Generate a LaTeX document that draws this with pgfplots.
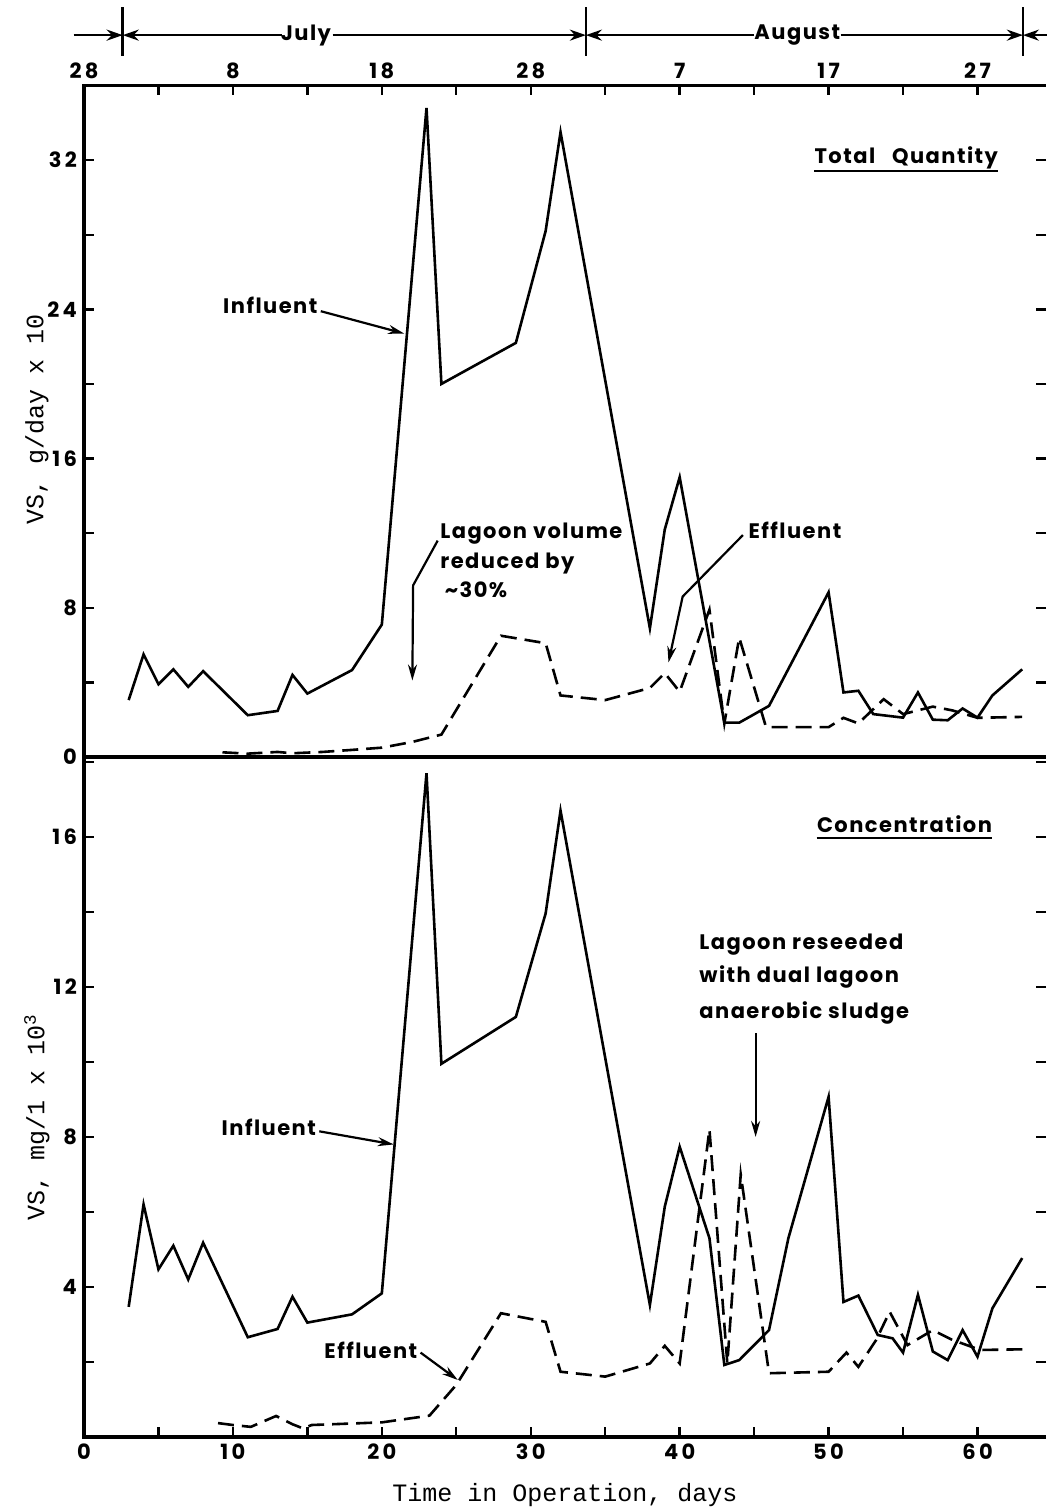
\documentclass[border=0pt]{standalone}
\usepackage{fontspec}
\usepackage{pgfplots}
\pgfplotsset{compat=1.18}
\usetikzlibrary{arrows.meta}
\setmonofont{Liberation Mono}
\newfontfamily\lettering{Poppins}[LetterSpace=7.0]
\newfontfamily\digitsfont{Poppins}[LetterSpace=16.0]
\newcommand{\lt}{\lettering\bfseries\fontsize{10.5}{12}\selectfont}
\newcommand{\tl}{\digitsfont\bfseries\fontsize{10.5}{12}\selectfont}
\tikzset{arr/.style={line width=1.1pt, -{Stealth[length=8pt,width=4.5pt]}}}

\pgfplotstableread{
x y
3 3.05
4 5.5
5 3.9
6 4.7
7 3.76
8 4.6
11 2.24
13 2.47
14 4.4
15 3.4
18 4.66
20 7.1
23 34.8
24 20.0
29 22.2
31 28.2
32 33.5
38 6.9
39 12.2
40 15.0
43 1.84
44 1.84
46 2.74
50 8.83
51 3.46
52 3.55
53 2.3
55 2.11
56 3.46
57 2.0
58 1.97
59 2.6
60 2.11
61 3.3
63 4.7
}\topinf

\pgfplotstableread{
x y
9.3 0.25
11 0.18
13 0.27
14 0.2
16 0.27
18 0.38
20 0.5
22 0.8
24 1.2
28 6.5
31 6.1
32 3.3
35 3.05
38 3.7
39 4.5
40 3.5
42 7.9
43 1.8
44 6.4
45.8 1.6
50 1.6
51 2.1
52 1.8
53.7 3.1
55 2.3
57 2.7
58.3 2.5
60 2.1
63 2.15
}\topeff

\pgfplotstableread{
x y
3 3.47
4 6.2
5 4.47
6 5.1
7 4.2
8 5.18
11 2.66
13 2.88
14 3.74
15 3.05
18 3.27
20 3.83
23 17.7
24 9.95
29 11.2
31 13.96
32 16.7
38 3.52
39 6.14
40 7.74
42 5.3
43 1.92
44 2.05
46 2.85
47.3 5.3
50 9.07
51 3.6
52 3.77
53.3 2.72
54.3 2.63
55 2.25
56 3.79
57 2.28
58 2.05
59 2.85
60 2.14
61 3.43
63 4.77
}\botinf

\pgfplotstableread{
x y
9 0.37
10 0.32
11.2 0.27
12.9 0.56
14 0.34
14.7 0.23
15.3 0.32
20 0.39
23.2 0.57
25 1.39
28 3.3
31 3.07
32 1.74
35 1.61
38 1.96
39 2.43
40 1.96
42 8.2
43.2 1.96
44.1 7.0
46 1.7
50 1.74
51.2 2.25
52 1.87
53.2 2.59
54.1 3.34
55.3 2.45
57 2.85
58.3 2.59
60.2 2.32
63.3 2.34
}\boteff

\begin{document}
\begin{tikzpicture}
\useasboundingbox (0,0) rectangle (523pt,756pt);
\pgfplotsset{
  every axis/.append style={
    scale only axis, width=481pt, xmin=0, xmax=64.6,
    anchor=south west, clip=false,
    axis line style={draw=none},
    tick style={line width=1.2pt, black},
    major tick length=5pt,
    ticklabel style={font=\tl},
    label style={font=\ttfamily\fontsize{12.5}{14}\selectfont},
  },
  inf/.style={black, line width=1.3pt, line join=miter},
  eff/.style={black, line width=1.3pt, dash pattern=on 8pt off 4pt},
}
% ---------- bottom panel: concentration ----------
\begin{axis}[at={(42pt,37.5pt)}, height=340pt,
  ymin=0, ymax=18.13,
  xtick={0,5,...,60}, xticklabels={0,,10,,20,,30,,40,,50,,60},
  xtick pos=lower,
  ytick={2,4,...,18}, yticklabels={,4,,8,,12,,16,},
  xlabel={Time in Operation, days},
  xlabel style={at={(axis description cs:0.5,-0.086)}, anchor=center},
  ylabel={VS, mg/1 x 10\textsuperscript{3}},
  ylabel style={at={(axis description cs:-0.049,0.47)}, anchor=center},
]
\addplot[inf] table {\botinf};
\addplot[eff] table {\boteff};
\draw[line width=1.7pt] (rel axis cs:1,0) -- (rel axis cs:0,0) -- (rel axis cs:0,1) -- (rel axis cs:1,1);
\node[font=\lt, anchor=base east, inner sep=0pt] (cc) at (axis cs:61.0,16.13) {Concentration};
\draw[line width=1.3pt] ([yshift=-3pt]cc.base west) -- ([yshift=-3pt]cc.base east);
\node[font=\lt, anchor=base west, inner sep=0pt] at (axis cs:41.3,13.0) {Lagoon reseeded};
\node[font=\lt, anchor=base west, inner sep=0pt] at (axis cs:41.3,12.13) {with dual lagoon};
\node[font=\lt, anchor=base west, inner sep=0pt] at (axis cs:41.3,11.15) {anaerobic sludge};
\draw[arr] (axis cs:45.1,10.77) -- (axis cs:45.1,8.0);
\node[font=\lt, anchor=base east, inner sep=0pt] at (axis cs:15.6,8.03) {Influent};
\draw[arr] (axis cs:15.8,8.15) -- (axis cs:20.8,7.8);
\node[font=\lt, anchor=base east, inner sep=0pt] at (axis cs:22.4,2.08) {Effluent};
\draw[arr] (axis cs:22.6,2.25) -- (axis cs:25.1,1.52);
\end{axis}
% ---------- top panel: total quantity ----------
\begin{axis}[at={(42pt,377.5pt)}, height=335.75pt,
  ymin=0, ymax=36,
  xtick={0,5,...,60}, xticklabels={28,,8,,18,,28,,7,,17,,27},
  xtick pos=upper, xticklabel pos=upper,
  ytick={0,4,...,32}, yticklabels={0,,8,,16,,24,,32},
  ylabel={VS, g/day x 10},
  ylabel style={at={(axis description cs:-0.049,0.503)}, anchor=center},
]
\addplot[inf] table {\topinf};
\addplot[eff] table {\topeff};
\draw[line width=1.7pt] (rel axis cs:0,0) -- (rel axis cs:0,1) -- (rel axis cs:1,1);
\node[font=\lt, anchor=base east, inner sep=0pt] (tq) at (axis cs:61.4,31.8) {Total\hspace{0.8em}Quantity};
\draw[line width=1.3pt] ([yshift=-3.5pt]tq.base west) -- ([yshift=-3.5pt]tq.base east);
\node[font=\lt, anchor=base east, inner sep=0pt] at (axis cs:15.7,23.75) {Influent};
\draw[arr] (axis cs:15.9,23.9) -- (axis cs:21.5,22.7);
\node[font=\lt, anchor=base west, inner sep=0pt] at (axis cs:23.9,11.7) {Lagoon volume};
\node[font=\lt, anchor=base west, inner sep=0pt] at (axis cs:23.9,10.1) {reduced by};
\node[font=\lt, anchor=base west, inner sep=0pt] at (axis cs:24.2,8.55) {\textasciitilde30\%};
\draw[arr] (axis cs:23.75,11.6) -- (axis cs:22.1,9.2) -- (axis cs:22.05,4.1);
\node[font=\lt, anchor=base west, inner sep=0pt] at (axis cs:44.6,11.7) {Effluent};
\draw[arr] (axis cs:44.25,11.9) -- (axis cs:40.2,8.6) -- (axis cs:39.25,5.07);
% month band
\begin{scope}[line width=1.3pt]
\draw[-{Stealth[length=8pt,width=5.5pt]}] (axis cs:-0.7,38.7) -- (axis cs:2.6,38.7);
\draw[-{Stealth[length=8pt,width=5.5pt]}] (axis cs:13.3,38.7) -- (axis cs:2.6,38.7);
\node[font=\lt] at (axis cs:14.9,38.7) {July};
\draw[-{Stealth[length=8pt,width=5.5pt]}] (axis cs:16.7,38.7) -- (axis cs:33.7,38.7);
\draw[-{Stealth[length=8pt,width=5.5pt]}] (axis cs:45.0,38.7) -- (axis cs:33.7,38.7);
\node[font=\lt] at (axis cs:47.9,38.7) {August};
\draw[-{Stealth[length=8pt,width=5.5pt]}] (axis cs:50.8,38.7) -- (axis cs:63.05,38.7);
\draw[-{Stealth[length=8pt,width=5.5pt]}] (axis cs:64.8,38.7) -- (axis cs:63.05,38.7);
\draw (axis cs:2.6,37.6) -- (axis cs:2.6,40.2);
\draw (axis cs:33.7,37.6) -- (axis cs:33.7,40.2);
\draw (axis cs:63.05,37.6) -- (axis cs:63.05,40.2);
\end{scope}
\end{axis}
\end{tikzpicture}
\end{document}
